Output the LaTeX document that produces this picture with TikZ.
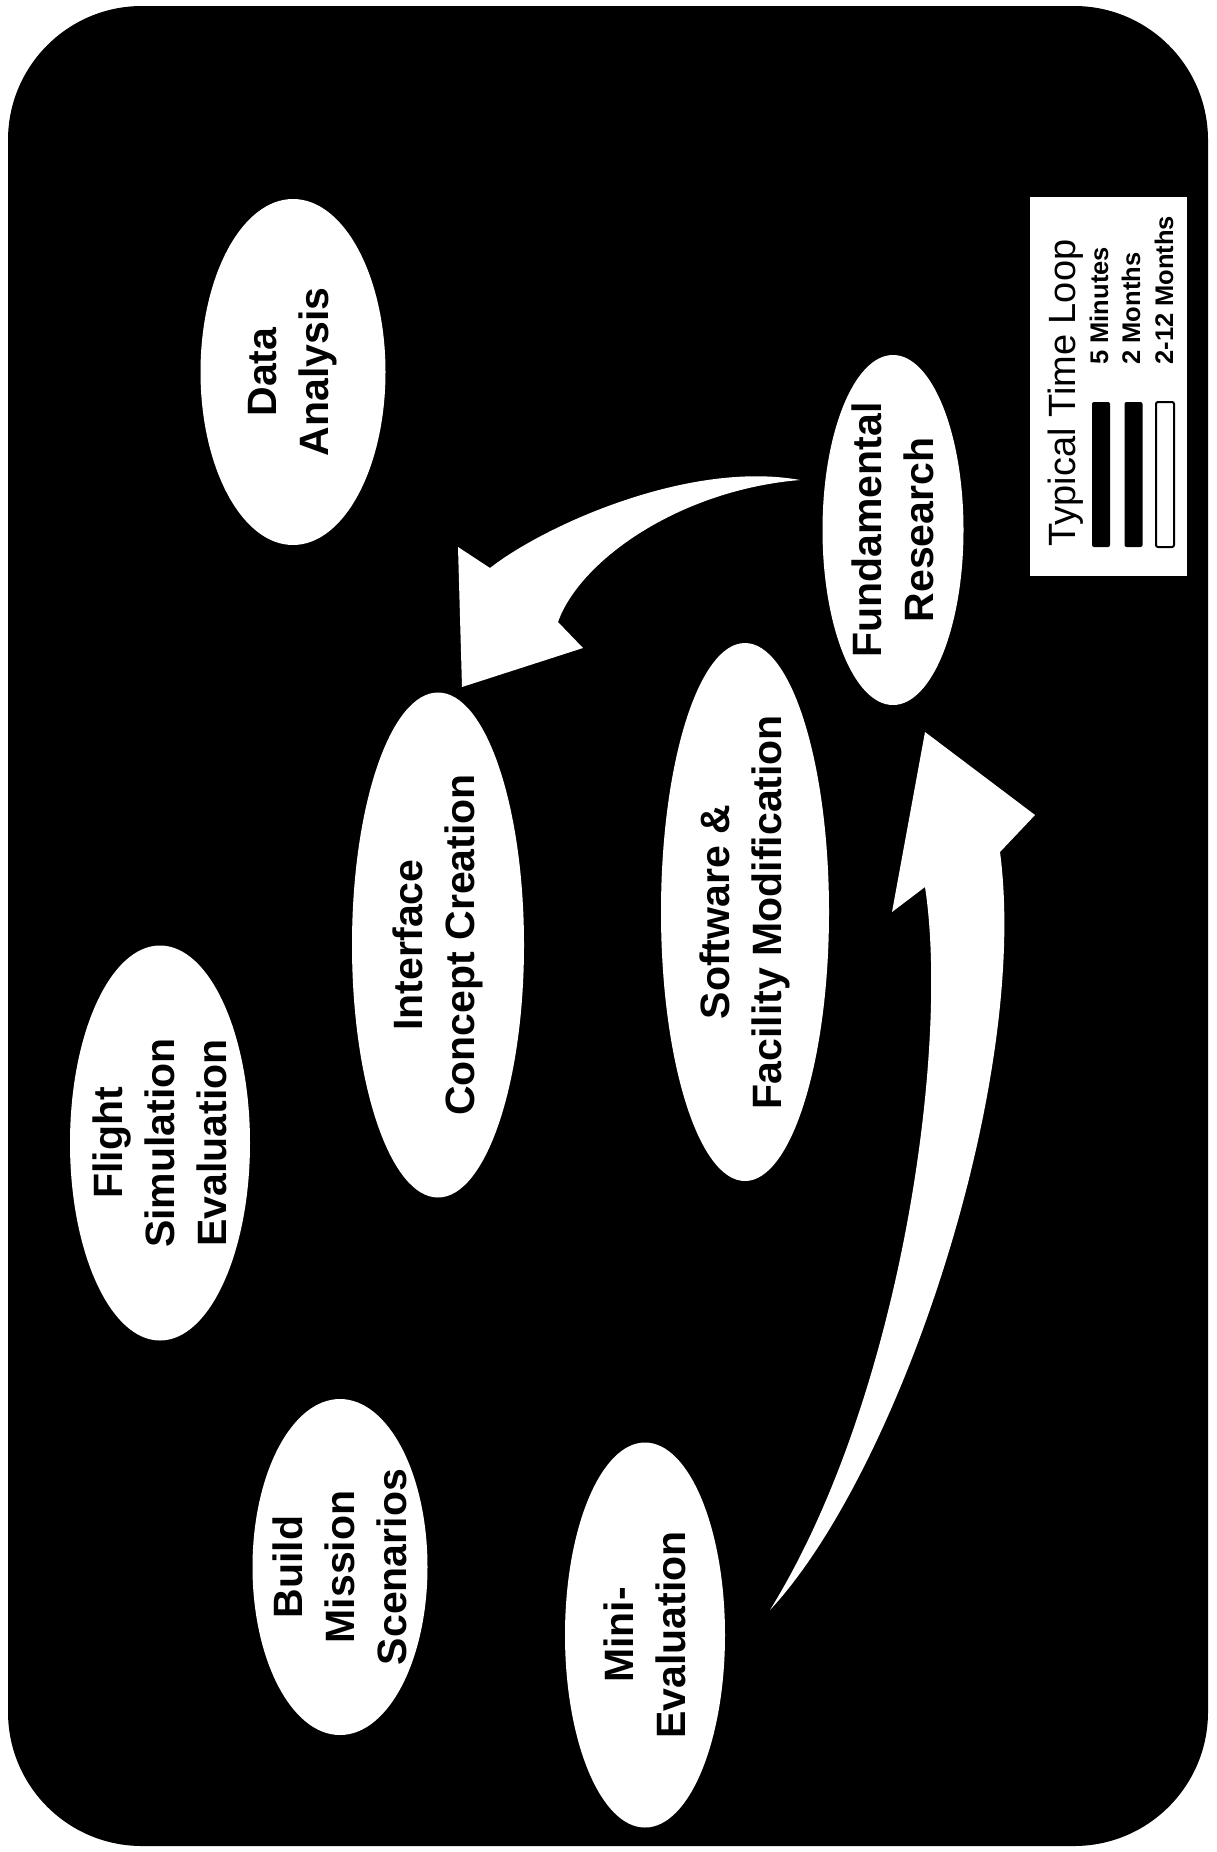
\documentclass[tikz,border=0pt]{standalone}
\usepackage{fontspec}
\setmainfont{Liberation Sans}
\usetikzlibrary{shapes.geometric}

\begin{document}
\begin{tikzpicture}[x=0.5pt,y=-0.5pt,
  stage/.style={ellipse,fill=white,rotate=90,inner xsep=-10pt,inner ysep=-6pt,
    align=center,font=\fontsize{20.5}{26}\selectfont\bfseries},
  key/.style={rotate=90,anchor=base west,inner sep=0pt,
    font=\fontsize{12.75}{15}\selectfont\bfseries},
  bar/.style={rectangle,inner sep=0pt,minimum width=9pt,minimum height=72.5pt,rounded corners=1pt}]

  \fill[white] (0,0) rectangle (1216,1852);
  \useasboundingbox (0,0) rectangle (1216,1852);
  \fill[black,rounded corners=67pt] (8,6) rectangle (1208,1846);

  \node [stage,minimum width=173pt,minimum height=92.5pt] (dat) at (293,372) {Data\\Analysis};
  \node [stage,minimum width=197.5pt,minimum height=90pt] (fli) at (160,1143) {Flight\\Simulation\\Evaluation};
  \node [stage,minimum width=168pt,minimum height=87.5pt] (bui) at (340,1567) {Build\\Mission\\Scenarios};
  \node [stage,minimum width=252.5pt,minimum height=86pt] (int) at (438,945) {Interface\\Concept Creation};
  \node [stage,minimum width=269pt,minimum height=84pt] (sof) at (745,912) {Software \&\\Facility Modification};
  \node [stage,minimum width=175pt,minimum height=70.5pt] (fun) at (893,530) {Fundamental\\Research};
  \node [stage,minimum width=192.5pt,minimum height=80pt] (min) at (645,1635) {Mini-\\Evaluation};

  % fundamental research -> interface concept creation
  \fill[white] (800,480) .. controls (690,460) and (545,525) .. (490,568)
    -- (458,547) -- (462,687) -- (583,648) -- (558,622)
    .. controls (580,560) and (680,490) .. (800,480) -- cycle;
  % mini-evaluation -> fundamental research
  \fill[white] (770,1610) .. controls (900,1470) and (1030,1080) .. (1000,852)
    -- (1035,815) -- (925,732) -- (892,912) -- (925,887)
    .. controls (950,1050) and (900,1400) .. (770,1610) -- cycle;

  \node [fill=white,inner sep=0pt,minimum width=78.5pt,minimum height=189.5pt] (leg) at (1108.5,386.5) {};
  \node [rotate=90,anchor=base west,inner sep=0pt,font=\fontsize{19}{22}\selectfont] (ttl) at (1075,547) {Typical Time Loop};
  \node [bar,fill=black] (b1) at (1101,474.5) {};
  \node [bar,fill=black] (b2) at (1133.5,474.5) {};
  \node [bar,fill=white,draw=black,line width=1pt] (b3) at (1165,474.5) {};
  \node [key] (k1) at (1108,365) {5 Minutes};
  \node [key] (k2) at (1140,365) {2 Months};
  \node [key] (k3) at (1173,365) {2-12 Months};
\end{tikzpicture}
\end{document}
